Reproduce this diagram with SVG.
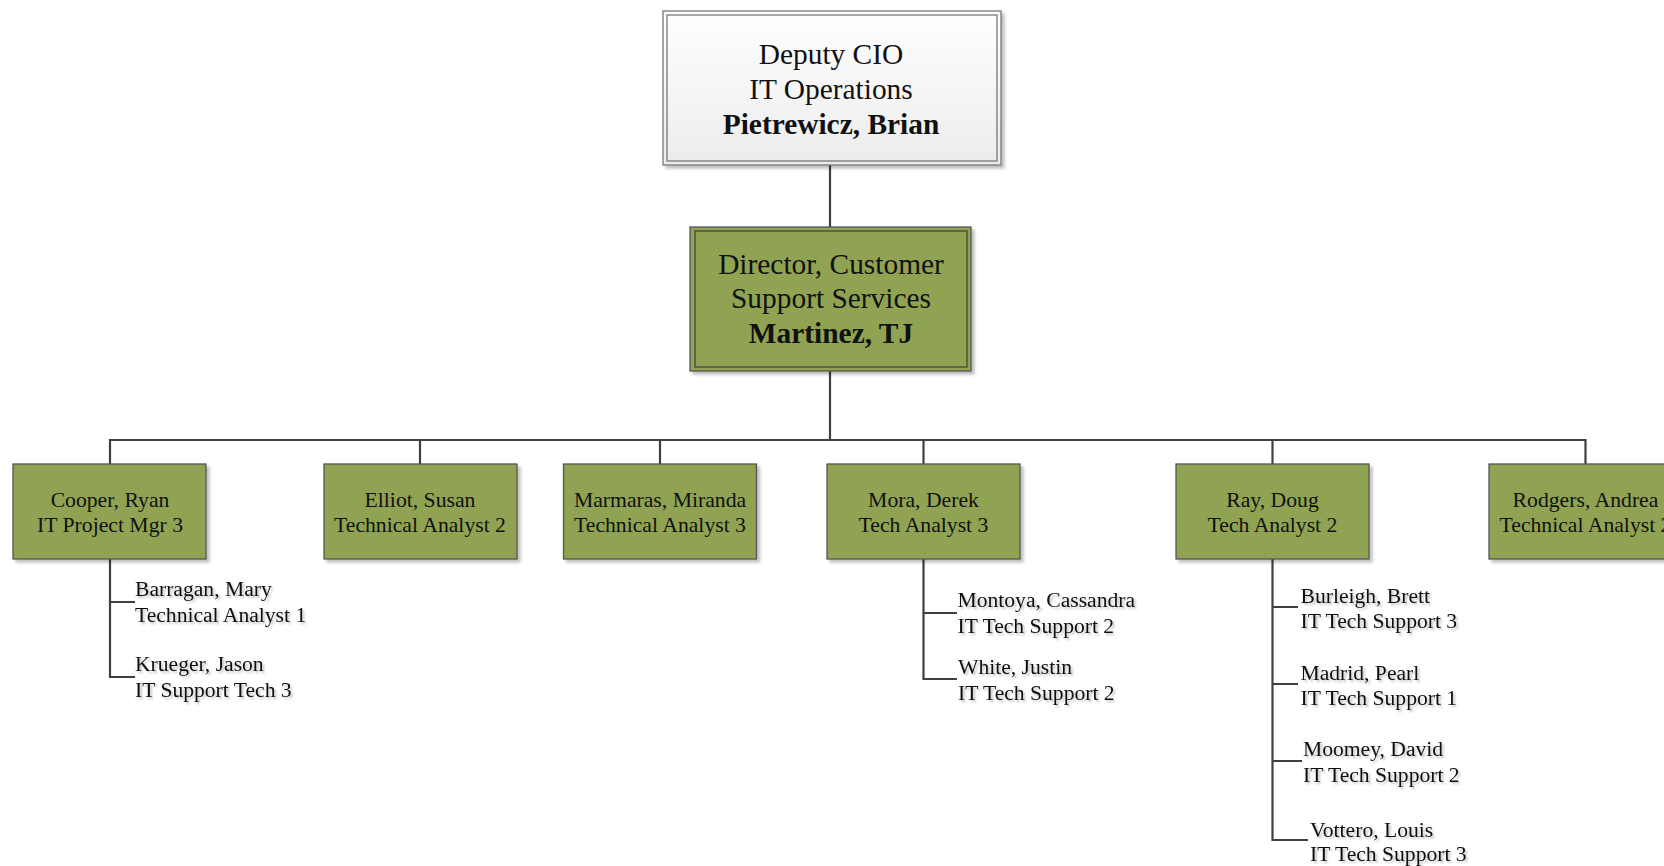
<svg xmlns="http://www.w3.org/2000/svg" width="1664" height="866" viewBox="0 0 1664 866">
<defs>
<linearGradient id="gTop" x1="0" y1="0" x2="0" y2="1">
<stop offset="0" stop-color="#ffffff"/>
<stop offset="1" stop-color="#ececec"/>
</linearGradient>
<filter id="sh" x="-10%" y="-10%" width="130%" height="130%">
<feGaussianBlur in="SourceAlpha" stdDeviation="1.5"/>
<feOffset dx="3" dy="3" result="b"/>
<feComponentTransfer><feFuncA type="linear" slope="0.25"/></feComponentTransfer>
<feMerge><feMergeNode/><feMergeNode in="SourceGraphic"/></feMerge>
</filter>
<filter id="tsh" x="-10%" y="-20%" width="130%" height="160%">
<feGaussianBlur in="SourceAlpha" stdDeviation="1.2"/>
<feOffset dx="2" dy="2"/>
<feComponentTransfer><feFuncA type="linear" slope="0.25"/></feComponentTransfer>
<feMerge><feMergeNode/><feMergeNode in="SourceGraphic"/></feMerge>
</filter>
</defs>
<style>
text{font-family:"Liberation Serif","Times New Roman",serif;fill:#111}
.big{font-size:29.4px;text-anchor:middle}
.bold{font-weight:bold}
.box{fill:#8FA352;stroke:#555;stroke-width:1.3}
.inner{fill:none;stroke:#444;stroke-width:1.3}
.cb{font-size:21.7px;text-anchor:middle}
.sub{font-size:21.6px}
.con{fill:none;stroke:#404040;stroke-width:2.2}
</style>
<rect width="1664" height="866" fill="#ffffff"/>

<g id="connectors">
<path class="con" d="M830 165 V227"/>
<path class="con" d="M830 371 V440"/>
<path class="con" d="M110 464 V440 H1585.5 V464"/>
<path class="con" d="M420 440 V464 M660 440 V464 M923.5 440 V464 M1272.5 440 V464"/>
<path class="con" d="M110 559 V677 H135 M110 602 H135"/>
<path class="con" d="M923.5 559 V679 H957 M923.5 613 H957"/>
<path class="con" d="M1272.5 559 V840 H1308 M1272.5 607 H1298 M1272.5 684 H1298 M1272.5 761 H1302"/>
</g>

<g id="deputy-cio">
<rect x="663" y="11" width="338" height="154" fill="url(#gTop)" stroke="#777" stroke-width="1.3" filter="url(#sh)"/>
<rect x="667" y="15" width="330" height="146" fill="none" stroke="#777" stroke-width="1.3"/>
<text class="big" x="831" y="64">Deputy CIO</text>
<text class="big" x="831" y="99">IT Operations</text>
<text class="big bold" x="831" y="134">Pietrewicz, Brian</text>
</g>

<g id="director">
<rect class="box" x="690" y="227" width="281" height="144" filter="url(#sh)"/>
<rect class="inner" x="695" y="231" width="272" height="136"/>
<text class="big" x="831" y="274">Director, Customer</text>
<text class="big" x="831" y="308">Support Services</text>
<text class="big bold" x="831" y="343">Martinez, TJ</text>
</g>

<g id="cooper">
<rect class="box" x="13" y="464" width="193" height="95" filter="url(#sh)"/>
<text class="cb" x="110" y="507">Cooper, Ryan</text>
<text class="cb" x="110" y="531.5">IT Project Mgr 3</text>
</g>
<g id="elliot">
<rect class="box" x="324" y="464" width="193" height="95" filter="url(#sh)"/>
<text class="cb" x="420" y="507">Elliot, Susan</text>
<text class="cb" x="420" y="531.5">Technical Analyst 2</text>
</g>
<g id="marmaras">
<rect class="box" x="563.5" y="464" width="193" height="95" filter="url(#sh)"/>
<text class="cb" x="660" y="507">Marmaras, Miranda</text>
<text class="cb" x="660" y="531.5">Technical Analyst 3</text>
</g>
<g id="mora">
<rect class="box" x="827" y="464" width="193" height="95" filter="url(#sh)"/>
<text class="cb" x="923.5" y="507">Mora, Derek</text>
<text class="cb" x="923.5" y="531.5">Tech Analyst 3</text>
</g>
<g id="ray">
<rect class="box" x="1176" y="464" width="193" height="95" filter="url(#sh)"/>
<text class="cb" x="1272.5" y="507">Ray, Doug</text>
<text class="cb" x="1272.5" y="531.5">Tech Analyst 2</text>
</g>
<g id="rodgers">
<rect class="box" x="1489" y="464" width="193" height="95" filter="url(#sh)"/>
<text class="cb" x="1585.5" y="507">Rodgers, Andrea</text>
<text class="cb" x="1585.5" y="531.5">Technical Analyst 2</text>
</g>

<g id="barragan" filter="url(#tsh)">
<text class="sub" x="135" y="596">Barragan, Mary</text>
<text class="sub" x="135" y="621.5">Technical Analyst 1</text>
</g>
<g id="krueger" filter="url(#tsh)">
<text class="sub" x="135" y="671">Krueger, Jason</text>
<text class="sub" x="135" y="696.5">IT Support Tech 3</text>
</g>
<g id="montoya" filter="url(#tsh)">
<text class="sub" x="957.5" y="607">Montoya, Cassandra</text>
<text class="sub" x="957.5" y="633">IT Tech Support 2</text>
</g>
<g id="white" filter="url(#tsh)">
<text class="sub" x="958" y="673.5">White, Justin</text>
<text class="sub" x="958" y="699.5">IT Tech Support 2</text>
</g>
<g id="burleigh" filter="url(#tsh)">
<text class="sub" x="1300.5" y="602.5">Burleigh, Brett</text>
<text class="sub" x="1300.5" y="627.5">IT Tech Support 3</text>
</g>
<g id="madrid" filter="url(#tsh)">
<text class="sub" x="1300.5" y="680">Madrid, Pearl</text>
<text class="sub" x="1300.5" y="705">IT Tech Support 1</text>
</g>
<g id="moomey" filter="url(#tsh)">
<text class="sub" x="1303" y="756">Moomey, David</text>
<text class="sub" x="1303" y="781.5">IT Tech Support 2</text>
</g>
<g id="vottero" filter="url(#tsh)">
<text class="sub" x="1310" y="836.5">Vottero, Louis</text>
<text class="sub" x="1310" y="860.5">IT Tech Support 3</text>
</g>
</svg>
